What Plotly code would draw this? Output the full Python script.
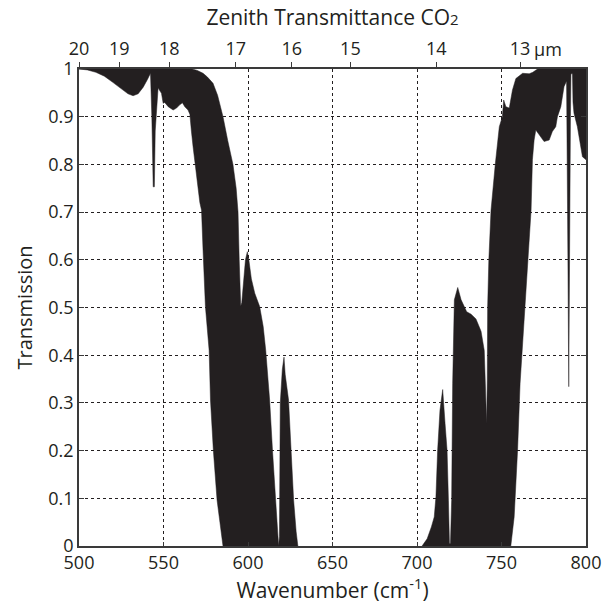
import plotly.graph_objects as go

# left band (around 600 cm-1): top / right edge, read left to right
left_upper_wn = [500, 567, 570, 573.4, 576, 579.3, 582, 585.2, 588, 591.1, 593, 594.1,
                 594.8, 595.2, 595.7, 596.3, 597.3, 598.5, 599.6, 600.5, 602, 604, 606.9,
                 609, 610.5, 612.8, 614.5, 616.3, 617.6, 618.1, 618.6, 619.1, 620.3, 621.3,
                 622, 624, 625.5, 627, 628.5, 629.5]
left_upper_t = [1.0, 1.0, 0.997, 0.991, 0.983, 0.97, 0.945, 0.9, 0.85, 0.8, 0.75, 0.70,
                0.6, 0.52, 0.503, 0.51, 0.56, 0.6, 0.617, 0.6, 0.56, 0.53, 0.502,
                0.46, 0.41, 0.306, 0.2, 0.096, 0.01, 0.0, 0.02, 0.3, 0.37, 0.396,
                0.36, 0.306, 0.2, 0.096, 0.03, 0.0]

# left band: bottom / left edge, read left to right
left_lower_wn = [500, 505, 510, 515, 520, 525, 529, 532, 535, 538, 540.5, 542.3, 543.1,
                 543.9, 544.6, 545.1, 546.8, 548.8, 549.8, 550.7, 552.8, 555.7, 557.7,
                 559.6, 561.2, 562.6, 564.5, 565.6, 566.5, 567.5, 569.5, 571.5, 572.5,
                 573.4, 574.8, 577, 577.8, 579.5, 581.7, 585.2]
left_lower_t = [1.0, 0.998, 0.993, 0.985, 0.972, 0.958, 0.948, 0.944, 0.948, 0.962, 0.978,
                0.991, 0.9, 0.753, 0.753, 0.87, 0.96, 0.949, 0.928, 0.93, 0.921, 0.914,
                0.918, 0.925, 0.929, 0.921, 0.914, 0.905, 0.87, 0.837, 0.774, 0.72, 0.704,
                0.62, 0.502, 0.41, 0.306, 0.2, 0.096, 0.0]

# right band (around 750 cm-1): left edge / top, read left to right
right_upper_wn = [703, 706, 708.5, 710.2, 711.2, 712.2, 713.6, 715.2, 716.6, 717.8, 718.6,
                  719.2, 719.8, 720.5, 721.1, 722.1, 724.1, 726.1, 729.4, 732, 734.9, 737.9,
                  739.8, 740.4, 741.2, 741.6, 741.8, 742.5, 743.8, 746.3, 748.7, 750.5, 751.3,
                  752.6, 754.6, 756.5, 758.5, 762.5, 766.4, 768.5, 771.3, 800]
right_upper_t = [0.0, 0.015, 0.04, 0.061, 0.103, 0.2, 0.285, 0.328, 0.257, 0.2, 0.096,
                 0.005, 0.005, 0.096, 0.34, 0.516, 0.542, 0.516, 0.491, 0.486, 0.476, 0.45,
                 0.41, 0.341, 0.257, 0.35, 0.5, 0.6, 0.704, 0.8, 0.879, 0.9, 0.935,
                 0.921, 0.918, 0.956, 0.98, 0.991, 0.99, 0.993, 1.0, 1.0]

# right band: right / bottom edge, read left to right
right_lower_wn = [755.5, 757.5, 759.5, 761, 763.5, 765.5, 767.5, 768.3, 769.3, 770.3, 773.3,
                  775.2, 778.2, 780.1, 782.1, 783.1, 785.1, 786, 787, 788.5, 788.9, 789.3,
                  789.8, 790.3, 790.8, 791.1, 792.0, 792.3, 792.9, 794.9, 796.9, 797.9, 800]
right_lower_t = [0.0, 0.061, 0.2, 0.341, 0.48, 0.6, 0.704, 0.81, 0.851, 0.872, 0.858,
                 0.848, 0.851, 0.869, 0.879, 0.9, 0.921, 0.942, 0.963, 0.975, 0.9, 0.6,
                 0.334, 0.6, 0.9, 0.99, 0.99, 0.93, 0.907, 0.879, 0.837, 0.816, 0.81]

# top axis: wavelength labels, placed where they sit on the picture
top_tick_wn = [500, 523.8, 553.4, 592.8, 625.9, 660.6, 711.4, 761]
top_tick_text = ["20", "19", "18", "17", "16", "15", "14", "13"]

ink = "#231f20"
frame = "#3a3a3a"
family = "Open Sans, Noto Sans, sans-serif"
tick_font = dict(family=family, size=18, color=ink)

fig = go.Figure()
for up_x, up_y, lo_x, lo_y in [(left_upper_wn, left_upper_t, left_lower_wn, left_lower_t),
                               (right_upper_wn, right_upper_t, right_lower_wn, right_lower_t)]:
    fig.add_trace(go.Scatter(
        x=up_x + lo_x[::-1], y=up_y + lo_y[::-1],
        mode="lines", fill="toself", fillcolor=ink,
        line=dict(color=ink, width=0.5), hoverinfo="skip", showlegend=False))

# invisible trace so the top axis gets drawn
fig.add_trace(go.Scatter(x=[500, 800], y=[0, 0], xaxis="x2", mode="markers",
                         marker=dict(opacity=0), hoverinfo="skip", showlegend=False))

axis_common = dict(showline=True, linecolor=frame, linewidth=1.5, automargin=False,
                   tickcolor=frame, tickfont=tick_font, zeroline=False)

fig.update_layout(
    width=611, height=604,
    margin=dict(l=79, r=25, t=69, b=58),
    paper_bgcolor="white", plot_bgcolor="white",
    font=dict(family=family, color=ink),
    title=dict(text="Zenith Transmittance CO<span style='font-size:15px'>2</span>",
               x=0.5, xanchor="center", xref="paper", y=0.97, yanchor="middle",
               yref="container", font=dict(family=family, size=21, color=ink),
               automargin=False),
    xaxis=dict(range=[500, 800], tickvals=[500, 550, 600, 650, 700, 750, 800],
               ticks="inside", ticklen=4, mirror=True,
               showgrid=True, gridcolor=ink, griddash="dot", gridwidth=1,
               title=dict(text="Wavenumber (cm<sup>-1</sup>)",
                          font=dict(family=family, size=21, color=ink), standoff=4),
               **axis_common),
    xaxis2=dict(range=[500, 800], overlaying="x", side="top", tickvals=top_tick_wn,
                ticktext=top_tick_text, ticks="outside", ticklen=6, tickcolor=frame,
                tickwidth=1.2, tickfont=tick_font, showgrid=False, showline=False,
                zeroline=False, automargin=False),
    yaxis=dict(range=[0, 1], tickvals=[i / 10 for i in range(11)],
               ticktext=["0", "0.1", "0.2", "0.3", "0.4", "0.5", "0.6", "0.7", "0.8", "0.9", "1"],
               ticks="inside", ticklen=5, mirror="ticks",
               showgrid=True, gridcolor=ink, griddash="dot", gridwidth=1,
               title=dict(text="Transmission", font=dict(family=family, size=20, color=ink),
                          standoff=10),
               **axis_common),
)

fig.add_annotation(x=761, y=1, xref="x2", yref="paper", text="µm", showarrow=False,
                   xanchor="left", yanchor="bottom", xshift=12, yshift=6, font=tick_font)

# drop the browser's default 8px body margin so the figure fills the window exactly
fig.write_html("out.html", config={"displayModeBar": False},
               post_script="document.body.style.margin='0';")
